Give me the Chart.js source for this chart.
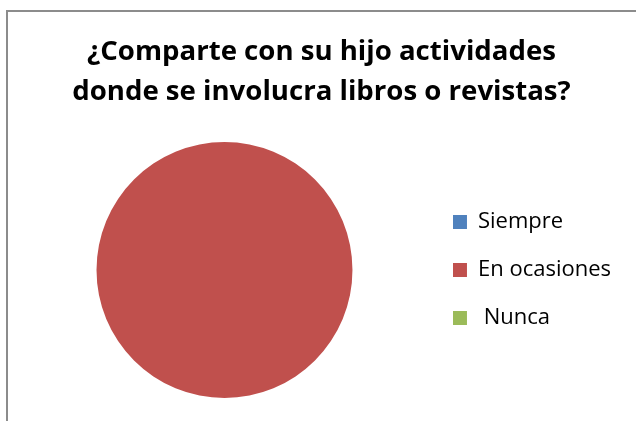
<!DOCTYPE html>
<html>
<head>
<meta charset="utf-8">
<script src="https://cdn.jsdelivr.net/npm/chart.js@4"></script>
<style>
    body { margin: 0; background: #ffffff; }
    #contenedor { width: 636px; height: 421px; }
</style>
</head>
<body>
<div id="contenedor"><canvas id="graficoLectura"></canvas></div>
<script>
// Datos del gráfico
const categorias = ['Siempre', 'En ocasiones', ' Nunca'];
const valores = [0, 100, 0];
const colores = ['#4F81BD', '#C0504D', '#9BBB59'];
const titulo = ['¿Comparte con su hijo actividades', 'donde se involucra libros o revistas?'];

// Marco gris del área del gráfico (solo borde superior e izquierdo visibles)
const marcoPlugin = {
    id: 'marco',
    beforeDraw(chart) {
        const ctx = chart.ctx;
        ctx.save();
        ctx.fillStyle = '#ffffff';
        ctx.fillRect(0, 0, chart.width, chart.height);
        ctx.fillStyle = '#8c8c8c';
        ctx.fillRect(6, 10, chart.width - 6, 2);
        ctx.fillRect(6, 10, 2, chart.height - 10);
        ctx.restore();
    }
};

const ctxLectura = document.getElementById('graficoLectura');
const graficoLectura = new Chart(ctxLectura, {
    type: 'pie',
    data: {
        labels: categorias,
        datasets: [{
            data: valores,
            backgroundColor: colores,
            borderWidth: 0
        }]
    },
    options: {
        responsive: true,
        maintainAspectRatio: false,
        animation: false,
        layout: {
            padding: { left: 22, top: 11, bottom: 23, right: 15 }
        },
        plugins: {
            title: {
                display: true,
                text: titulo,
                color: '#000000',
                font: { family: 'Open Sans', size: 27.6, weight: 'bold', lineHeight: 1.45 },
                padding: { top: 21, bottom: 30 }
            },
            legend: {
                position: 'right',
                // titulo vacío para bajar las etiquetas
                title: {
                    display: true,
                    text: '',
                    font: { size: 10, lineHeight: 1 },
                    padding: { top: 0, bottom: 121 }
                },
                labels: {
                    color: '#000000',
                    font: { family: 'Open Sans', size: 22 },
                    boxWidth: 14,
                    boxHeight: 14,
                    padding: 26
                }
            },
            tooltip: { enabled: false }
        }
    },
    plugins: [marcoPlugin]
});
</script>
</body>
</html>
